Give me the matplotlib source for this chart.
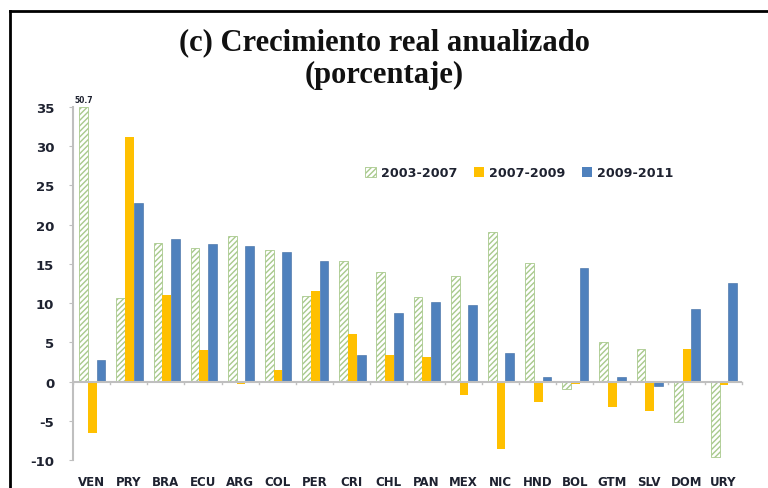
import numpy as np
import matplotlib
matplotlib.use("Agg")
import matplotlib.pyplot as plt
from matplotlib.lines import Line2D

countries = ["VEN", "PRY", "BRA", "ECU", "ARG", "COL", "PER", "CRI", "CHL",
             "PAN", "MEX", "NIC", "HND", "BOL", "GTM", "SLV", "DOM", "URY"]
p0307 = [50.7, 10.6, 17.6, 17.0, 18.6, 16.8, 10.9, 15.4, 14.0,
         10.8, 13.5, 19.1, 15.1, -0.9, 5.0, 4.1, -5.2, -9.6]
p0709 = [-6.6, 31.2, 11.0, 4.0, -0.3, 1.5, 11.5, 6.1, 3.4,
         3.1, -1.7, -8.6, -2.6, -0.3, -3.3, -3.8, 4.1, -0.5]
p0911 = [2.7, 22.7, 18.2, 17.5, 17.3, 16.5, 15.4, 3.4, 8.7,
         10.1, 9.7, 3.6, 0.6, 14.5, 0.6, -0.6, 9.2, 12.6]
series_names = ["2003-2007", "2007-2009", "2009-2011"]
yticks = [-10, -5, 0, 5, 10, 15, 20, 25, 30, 35]

green = "#a8c98c"
orange = "#FFC000"
blue = "#4F81BD"
txt = "#1e2230"

plt.rcParams["hatch.linewidth"] = 1.0

fig = plt.figure(figsize=(7.68, 4.89), dpi=100)
ax = fig.add_axes([0.095, 0.0573, 0.871, 0.7219])

x = np.arange(len(countries))
w = 0.235
ax.bar(x - w + 0.02, np.minimum(p0307, 35), w, color="white", edgecolor=green,
       hatch="//////", linewidth=0.6, zorder=2)
ax.bar(x + 0.02, p0709, w, color=orange, zorder=2)
ax.bar(x + w + 0.02, p0911, w, color=blue, edgecolor="#3c6aa0", linewidth=0.4, zorder=2)

# value above the clipped VEN bar
ax.text(x[0] - w + 0.02, 35.4, "%.1f" % p0307[0], ha="center", va="bottom",
        fontsize=5.5, fontweight="bold", color=txt, family="DejaVu Sans")

ax.set_xlim(-0.5, len(countries) - 0.5)
ax.set_ylim(-10, 35)
ax.set_yticks(yticks)
ax.set_yticklabels([str(t) for t in yticks], fontsize=9.5, fontweight="bold",
                   color=txt, family="DejaVu Sans")
ax.set_xticks(x)
ax.set_xticklabels(countries, fontsize=8.5, fontweight="bold", color=txt,
                   family="DejaVu Sans")
ax.tick_params(axis="x", length=0, pad=11)
ax.tick_params(axis="y", length=3, color="#bfbfbf", pad=10.5)

for s in ["top", "right", "bottom"]:
    ax.spines[s].set_visible(False)
ax.spines["left"].set_color("#bfbfbf")
ax.spines["left"].set_linewidth(1.5)
ax.axhline(0, color="#bfbfbf", linewidth=1.5, zorder=3)
# small category ticks on the zero line
for xi in np.arange(len(countries) + 1) - 0.5:
    ax.plot([xi, xi], [0, -0.35], color="#bfbfbf", linewidth=1, zorder=3, clip_on=False)

handles = [
    plt.Rectangle((0, 0), 1, 1, facecolor="white", edgecolor=green, hatch="//////", linewidth=0.6),
    plt.Rectangle((0, 0), 1, 1, facecolor=orange),
    plt.Rectangle((0, 0), 1, 1, facecolor=blue),
]
leg = ax.legend(handles, series_names, loc="center left", bbox_to_anchor=(0.42, 0.813),
                ncol=3, frameon=False, handlelength=0.8, handleheight=0.8,
                handletextpad=0.4, columnspacing=1.3,
                prop={"size": 9.2, "weight": "bold", "family": "DejaVu Sans"})
for t in leg.get_texts():
    t.set_color(txt)

fig.text(0.5, 0.913, "(c) Crecimiento real anualizado", ha="center", va="center",
         fontsize=22, fontweight="bold", family="Liberation Serif", color="#111111")
fig.text(0.5, 0.846, "(porcentaje)", ha="center", va="center",
         fontsize=22, fontweight="bold", family="Liberation Serif", color="#111111")

# frame lines at top and left of the image
fig.add_artist(Line2D([10 / 768, 1], [1 - 12 / 489, 1 - 12 / 489], color="black",
                      linewidth=2, transform=fig.transFigure))
fig.add_artist(Line2D([10 / 768, 10 / 768], [0, 1 - 12 / 489], color="black",
                      linewidth=2, transform=fig.transFigure))

fig.savefig("out.png", dpi=100)
